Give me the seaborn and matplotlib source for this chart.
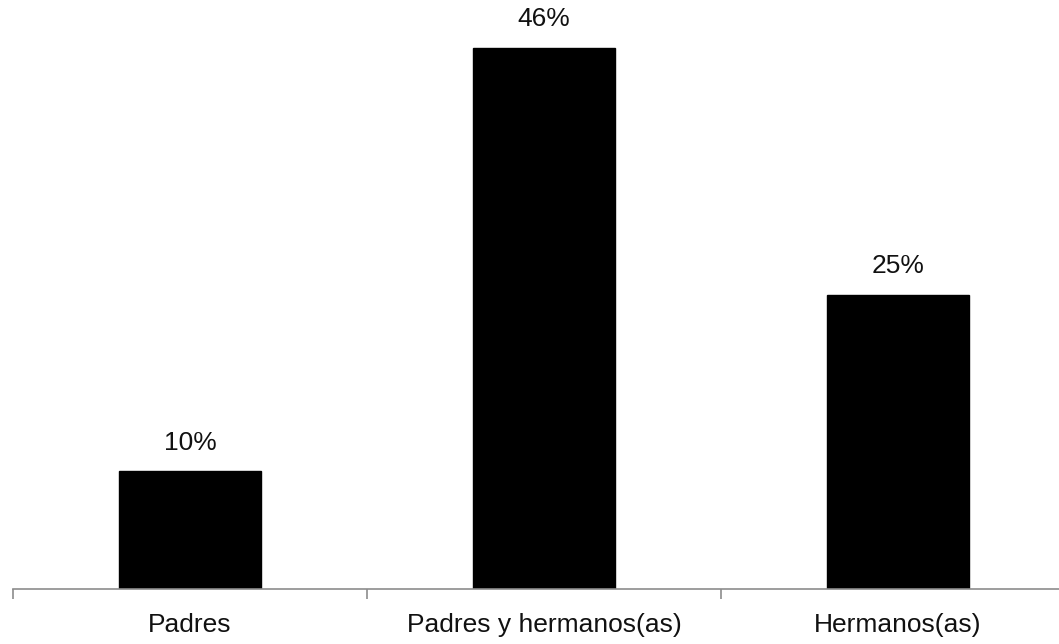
import matplotlib
matplotlib.use("Agg")
import matplotlib.pyplot as plt
import seaborn as sns
import pandas as pd
import numpy as np

categories = ["Padres", "Padres y hermanos(as)", "Hermanos(as)"]
values = [10, 46, 25]
value_labels = ["10%", "46%", "25%"]

sns.set_theme(style="white")
plt.rcParams['font.family'] = ['Liberation Sans', 'DejaVu Sans']

df = pd.DataFrame({"cat": categories, "val": values})

fig = plt.figure(figsize=(10.59, 6.44), dpi=100)
W, H = 1059, 644
x0, x1 = 13, 1075
y_base, y_top = 589, 589 - 50 * 11.77
ax = fig.add_axes([x0 / W, (H - y_base) / H, (x1 - x0) / W, (y_base - y_top) / H])

sns.barplot(data=df, x="cat", y="val", color="black", width=0.4, ax=ax,
            saturation=1, edgecolor="black")
ax.set_xlim(-0.5, 2.5)
ax.set_ylim(0, 50)

for i, (v, lab) in enumerate(zip(values, value_labels)):
    ax.annotate(lab, (i, v), xytext=(0, 12), textcoords="offset points",
                ha="center", va="bottom", fontsize=19, color="#111111")

for s in ["top", "right", "left"]:
    ax.spines[s].set_visible(False)
ax.spines["bottom"].set_color("#8c8c8c")
ax.spines["bottom"].set_linewidth(1.2)
ax.set_yticks([])
ax.set_xlabel("")
ax.set_ylabel("")
ax.set_xticks(range(3))
ax.set_xticklabels(categories, fontsize=19, color="#111111")
ax.tick_params(axis="x", which="major", bottom=True, length=0, pad=17)
ax.set_xticks([-0.5, 0.5, 1.5, 2.5], minor=True)
ax.tick_params(axis="x", which="minor", bottom=True, length=7.5, width=1.2,
               color="#8c8c8c", direction="out")

fig.savefig("out.png", dpi=100)
